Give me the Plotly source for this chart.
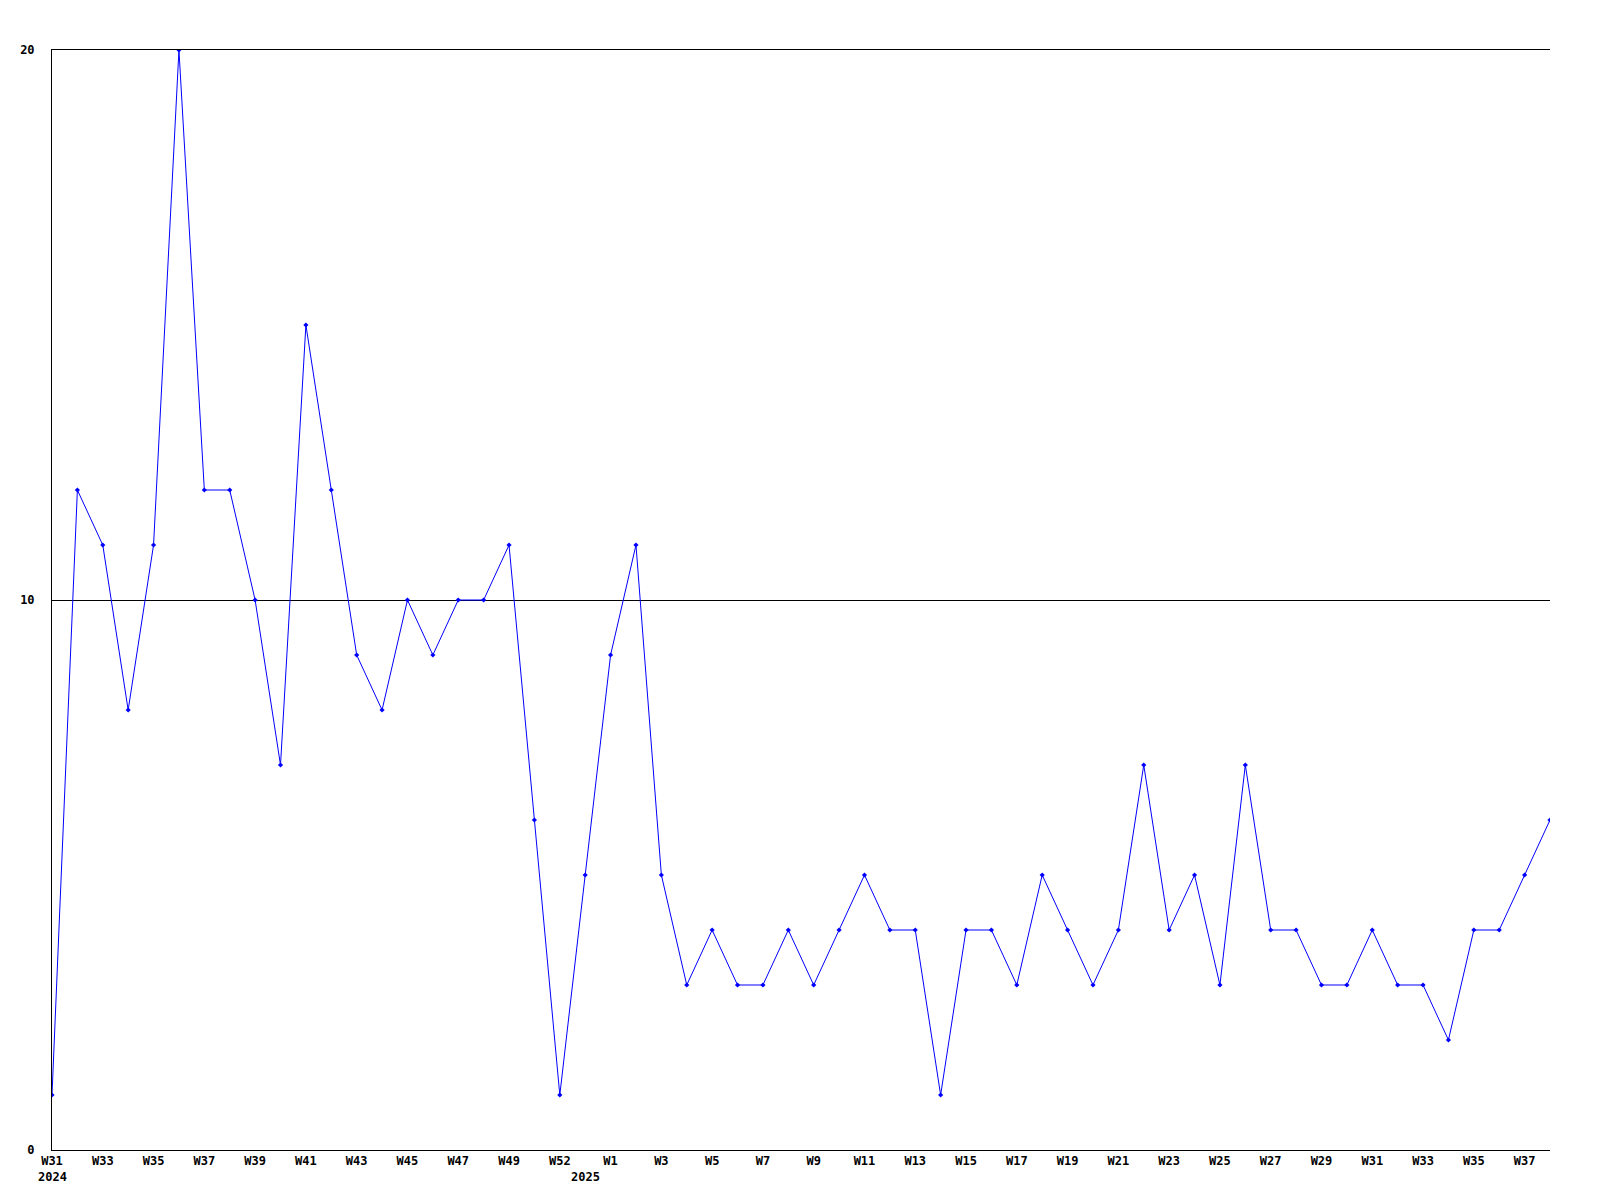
import plotly.graph_objects as go

# weekly counts, W31 2024 .. W38 2025
week_index = list(range(60))
counts = [1, 12, 11, 8, 11, 20, 12, 12, 10, 7,
          15, 12, 9, 8, 10, 9, 10, 10, 11, 6,
          1, 5, 9, 11, 5, 3, 4, 3, 3, 4,
          3, 4, 5, 4, 4, 1, 4, 4, 3, 5,
          4, 3, 4, 7, 4, 5, 3, 7, 4, 4,
          3, 3, 4, 3, 3, 2, 4, 4, 5, 6]

# x tick labels (every second week)
tick_pos = [0, 2, 4, 6, 8, 10, 12, 14, 16, 18, 20,
            22, 24, 26, 28, 30, 32, 34, 36, 38, 40, 42, 44, 46, 48, 50, 52, 54, 56, 58]
tick_text = ["W31", "W33", "W35", "W37", "W39", "W41", "W43", "W45", "W47", "W49", "W52",
             "W1", "W3", "W5", "W7", "W9", "W11", "W13", "W15", "W17", "W19", "W21",
             "W23", "W25", "W27", "W29", "W31", "W33", "W35", "W37"]
year_pos = [0, 21]
year_text = ["2024", "2025"]

font = dict(family="DejaVu Sans Mono", size=12, color="black", weight="bold")

fig = go.Figure(go.Scatter(
    x=week_index, y=counts, mode="lines+markers",
    line=dict(color="#0000ff", width=1),
    marker=dict(symbol="diamond", size=4, color="#0000ff"),
    cliponaxis=True,
))

for xp, txt in zip(year_pos, year_text):
    fig.add_annotation(x=xp, y=0, xref="x", yref="y", text=txt, showarrow=False,
                       yshift=-27, font=font)

# page body has an 8px margin, so shift the plot area up/left by that
fig.update_layout(
    width=1600, height=1200,
    margin=dict(l=42, r=58, t=42, b=58),
    paper_bgcolor="white", plot_bgcolor="white",
    showlegend=False,
    font=font,
    xaxis=dict(range=[0, 59], tickvals=tick_pos, ticktext=tick_text,
               showgrid=False, zeroline=False, showline=True, mirror=True,
               linecolor="black", linewidth=1, ticks="", tickfont=font, tickangle=0),
    yaxis=dict(range=[0, 20], tickvals=[0, 10, 20], showgrid=True,
               gridcolor="black", gridwidth=1, zeroline=False,
               showline=True, linecolor="black", linewidth=1,
               ticks="", ticklabelstandoff=14, tickfont=font),
)

fig.write_html("out.html")
